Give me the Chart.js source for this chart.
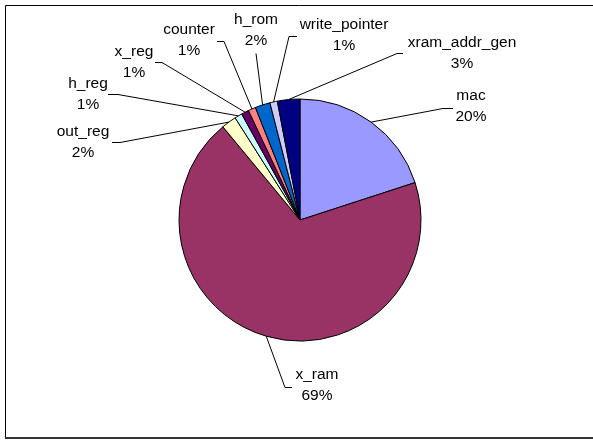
<!DOCTYPE html>
<html>
<head>
<meta charset="utf-8">
<script src="https://cdn.jsdelivr.net/npm/chart.js@4/dist/chart.umd.min.js"></script>
<style>
    body { margin: 0; background: #fff; }
    canvas { display: block; }
</style>
</head>
<body>
<canvas id="pieChart" width="593" height="441"></canvas>
<script>
// Module area share, clockwise from 12 o'clock
const modules = ['mac', 'x_ram', 'out_reg', 'h_reg', 'x_reg', 'counter', 'h_rom', 'write_pointer', 'xram_addr_gen'];
const shares = [20, 69, 2, 1, 1, 1, 2, 1, 3];
const sliceColors = ['#9999FF', '#993366', '#FFFFCC', '#CCFFFF', '#660066', '#FF8080', '#0066CC', '#CCCCFF', '#000080'];

// Label placement: text centre, leader elbow and the short horizontal stub end
const labelX = [471, 317, 83, 88, 134, 189, 256, 344, 462];
const labelY = [96, 375, 132, 84, 52, 30, 20, 25, 43];
const elbowX = [443, 285, 120, 118, 162, 224, 256, 289, 397];
const elbowY = [108, 387, 142, 94, 62, 41, 53, 36, 53];
const stubX = [453, 292, 112, 108, 155, 217, 256, 297, 403];

const LINE_GAP = 21;
const FONT = '15.5px "Liberation Sans", Arial, sans-serif';

// Outer frame around the plot
const framePlugin = {
    id: 'frame',
    beforeDraw(chart) {
        const ctx = chart.ctx;
        ctx.save();
        ctx.strokeStyle = '#000';
        ctx.lineWidth = 1;
        ctx.beginPath();
        ctx.moveTo(5.5, 438);
        ctx.lineTo(5.5, 5.5);
        ctx.lineTo(593, 5.5);
        ctx.stroke();
        ctx.strokeStyle = '#333';
        ctx.lineWidth = 2;
        ctx.beginPath();
        ctx.moveTo(5, 438);
        ctx.lineTo(593, 438);
        ctx.stroke();
        ctx.restore();
    }
};

// Category name + percentage with leader lines to each slice
const leaderLabels = {
    id: 'leaderLabels',
    afterDraw(chart) {
        const ctx = chart.ctx;
        const meta = chart.getDatasetMeta(0);
        const total = shares.reduce((a, b) => a + b, 0);
        ctx.save();
        ctx.font = FONT;
        ctx.fillStyle = '#000';
        ctx.strokeStyle = '#000';
        ctx.lineWidth = 1;
        ctx.textAlign = 'center';
        ctx.textBaseline = 'middle';
        meta.data.forEach((arc, i) => {
            const p = arc.getProps(['x', 'y', 'startAngle', 'endAngle', 'outerRadius'], true);
            const mid = (p.startAngle + p.endAngle) / 2;
            const ex = p.x + Math.cos(mid) * p.outerRadius;
            const ey = p.y + Math.sin(mid) * p.outerRadius;
            ctx.beginPath();
            ctx.moveTo(ex, ey);
            ctx.lineTo(elbowX[i], elbowY[i] + 0.5);
            ctx.lineTo(stubX[i], elbowY[i] + 0.5);
            ctx.stroke();
            const pct = Math.round(shares[i] / total * 100) + '%';
            ctx.fillText(modules[i], labelX[i], labelY[i]);
            ctx.fillText(pct, labelX[i], labelY[i] + LINE_GAP);
        });
        ctx.restore();
    }
};

const ctx = document.getElementById('pieChart').getContext('2d');
new Chart(ctx, {
    type: 'pie',
    data: {
        labels: modules,
        datasets: [{
            data: shares,
            backgroundColor: sliceColors,
            borderColor: '#000',
            borderWidth: 1
        }]
    },
    options: {
        responsive: false,
        animation: false,
        radius: 121,
        layout: {
            padding: { left: 179, right: 172, top: 99, bottom: 100 }
        },
        plugins: {
            legend: { display: false },
            tooltip: { enabled: false }
        }
    },
    plugins: [framePlugin, leaderLabels]
});
</script>
</body>
</html>
